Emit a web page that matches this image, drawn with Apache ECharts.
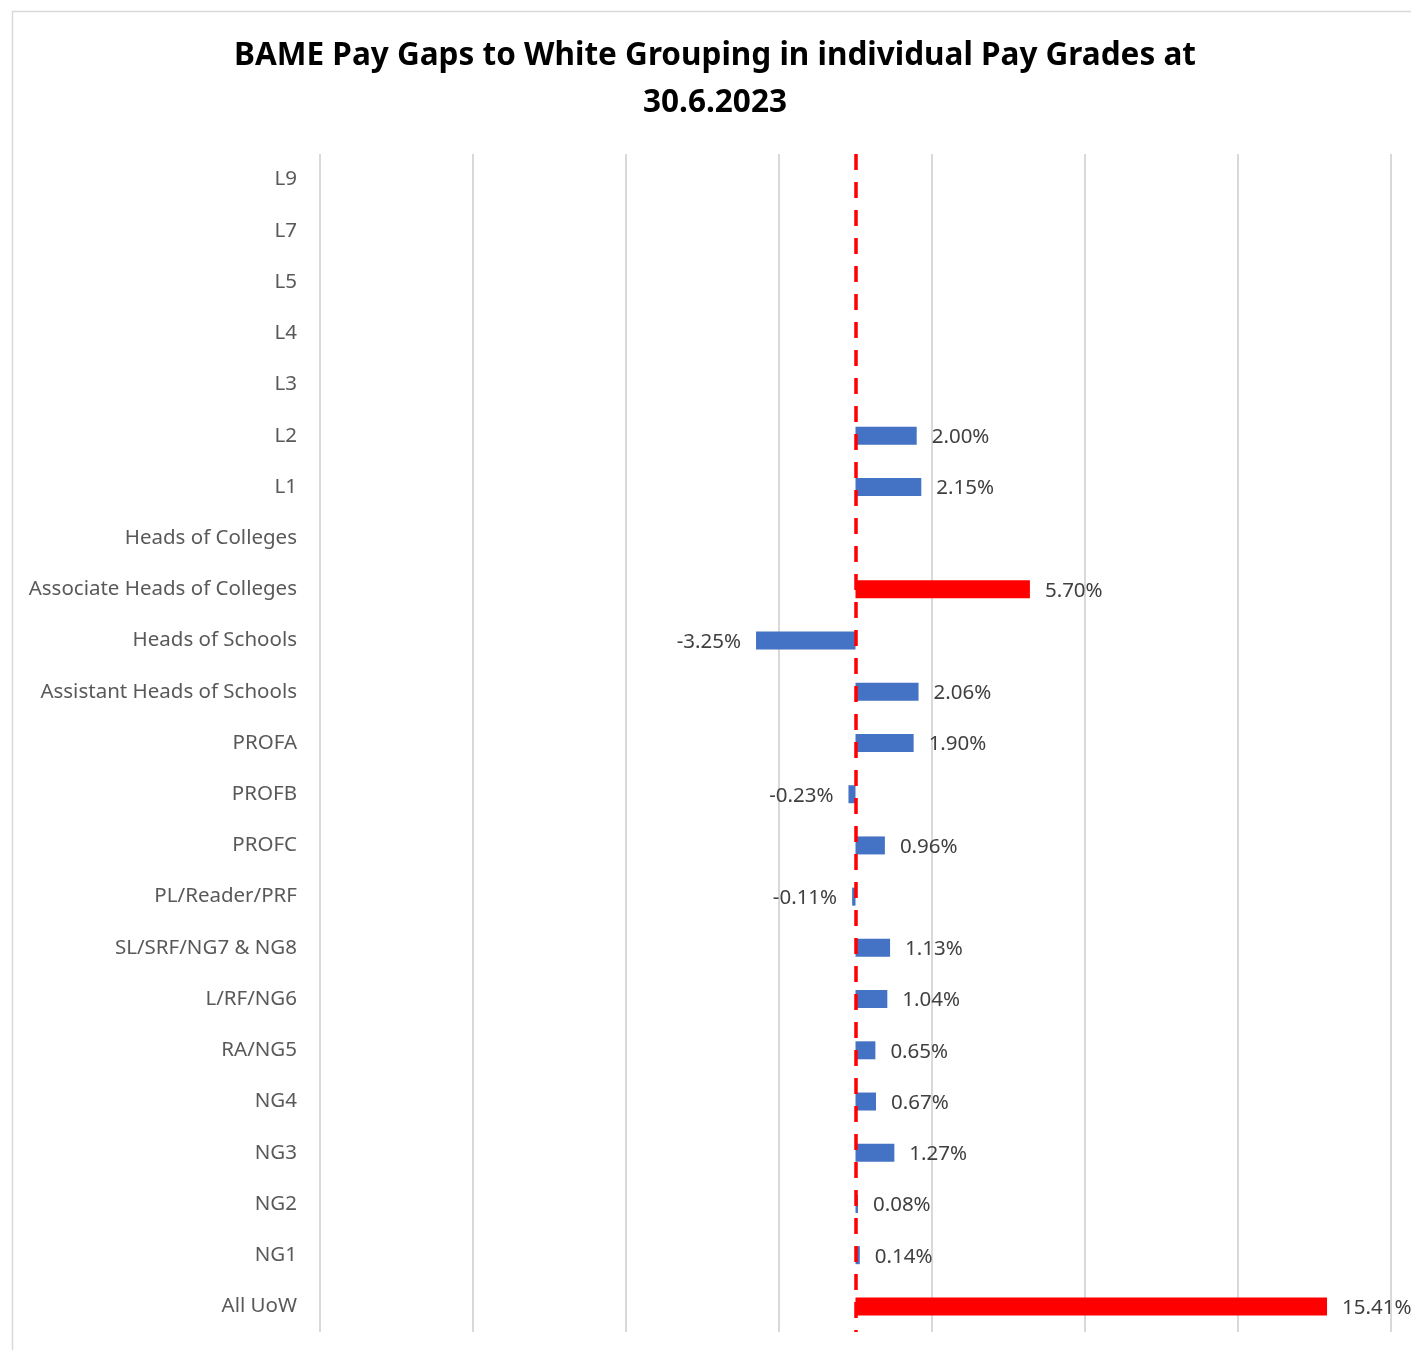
<!DOCTYPE html>
<html>
<head>
<meta charset="utf-8">
<script src="https://cdn.jsdelivr.net/npm/echarts@6/dist/echarts.min.js"></script>
<style>
  html, body { margin: 0; padding: 0; background: #fff; }
  #chart { width: 1411px; height: 1350px; }
</style>
</head>
<body>
<div id="chart"></div>
<script>
// ---- Data ----
const categories = [
  'L9', 'L7', 'L5', 'L4', 'L3', 'L2', 'L1', 'Heads of Colleges',
  'Associate Heads of Colleges', 'Heads of Schools', 'Assistant Heads of Schools',
  'PROFA', 'PROFB', 'PROFC', 'PL/Reader/PRF', 'SL/SRF/NG7 & NG8', 'L/RF/NG6',
  'RA/NG5', 'NG4', 'NG3', 'NG2', 'NG1', 'All UoW'
];
const payGaps = [
  null, null, null, null, null, 2.00, 2.15, null,
  5.70, -3.25, 2.06,
  1.90, -0.23, 0.96, -0.11, 1.13, 1.04,
  0.65, 0.67, 1.27, 0.08, 0.14, 15.41
];
const highlighted = ['Associate Heads of Colleges', 'All UoW'];
const titleText = 'BAME Pay Gaps to White Grouping in individual Pay Grades at\n30.6.2023';

// ---- Build ----
const BLUE = '#4472C4', RED = '#FF0000';
const seriesData = categories.map((c, i) => {
  const v = payGaps[i];
  return {
    value: v,
    itemStyle: { color: highlighted.includes(c) ? RED : BLUE },
    label: { position: (v !== null && v < 0) ? 'left' : 'right' }
  };
});

const chart = echarts.init(document.getElementById('chart'), null, { renderer: 'canvas' });
const FONT = '"Noto Sans", "DejaVu Sans", sans-serif';

chart.setOption({
  backgroundColor: '#ffffff',
  animation: false,
  title: {
    text: titleText,
    left: 710,
    textAlign: 'center',
    top: 28,
    textStyle: {
      fontFamily: FONT,
      fontSize: 31.5,
      fontWeight: 'bold',
      color: '#000000',
      lineHeight: 47
    }
  },
  graphic: [{
    type: 'rect',
    left: 10, top: 9,
    shape: { width: 1420, height: 1360 },
    style: { fill: 'none', stroke: '#d9d9d9', lineWidth: 1.5 },
    silent: true, z: -10
  }],
  grid: { left: 320, right: 20, top: 154, bottom: 18, containLabel: false },
  xAxis: [{
    type: 'value',
    min: -17.5, max: 17.5,
    axisLine: { show: false },
    axisTick: { show: false },
    axisLabel: { show: false },
    splitLine: { show: false }
  }, {
    type: 'value',
    min: 0, max: 35, interval: 5,
    position: 'bottom',
    axisLine: { show: false },
    axisTick: { show: false },
    axisLabel: { show: false },
    splitLine: { show: true, lineStyle: { color: '#d9d9d9', width: 2 } }
  }],
  yAxis: {
    type: 'category',
    data: categories,
    inverse: true,
    axisLine: { show: false },
    axisTick: { show: false },
    splitLine: { show: false },
    axisLabel: {
      margin: 23,
      fontFamily: FONT,
      fontSize: 20.5,
      color: '#595959'
    }
  },
  series: [{
    type: 'bar',
    xAxisIndex: 0,
    data: seriesData,
    barWidth: 18,
    label: {
      show: true,
      distance: 15,
      offset: [0, 1.5],
      fontFamily: FONT,
      fontSize: 20.5,
      color: '#404040',
      formatter: p => (p.value === null || p.value === undefined) ? '' : p.value.toFixed(2) + '%'
    },
    z: 2
  }, {
    type: 'line',
    xAxisIndex: 0,
    data: [],
    z: 5,
    markLine: {
      silent: true,
      symbol: ['none', 'none'],
      label: { show: false },
      lineStyle: { color: RED, width: 3.5, type: [16, 12] },
      data: [{ xAxis: 0 }]
    }
  }]
});
</script>
</body>
</html>
